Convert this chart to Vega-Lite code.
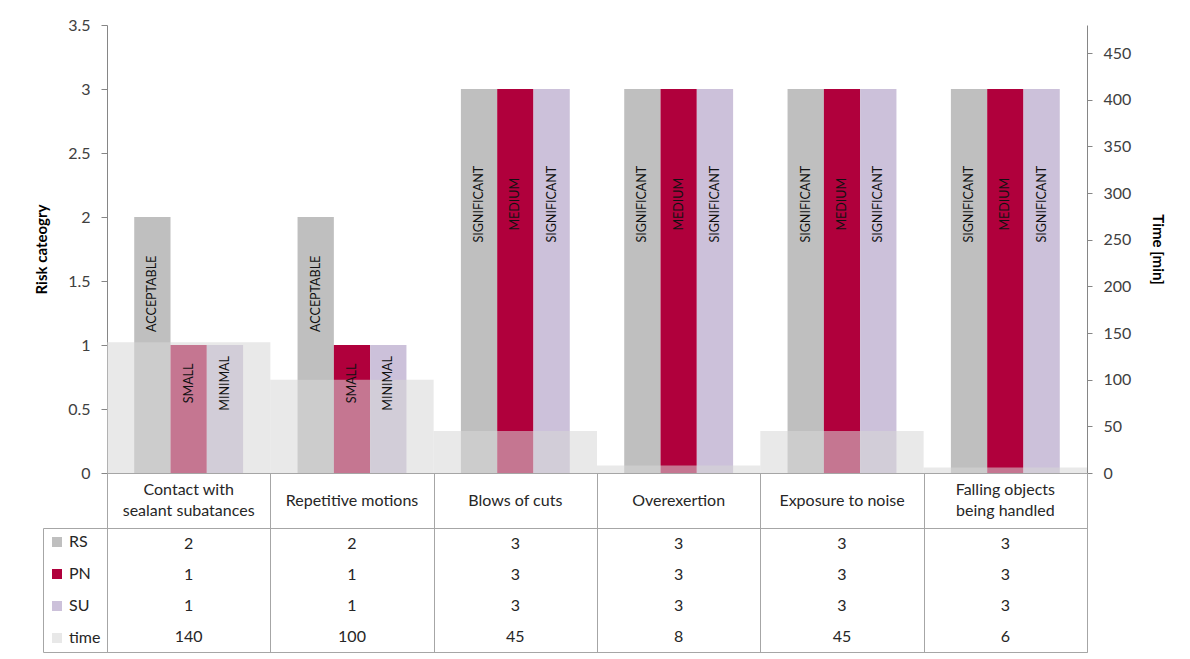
{
  "$schema": "https://vega.github.io/schema/vega-lite/v6.json",
  "padding": {"left": 34, "top": 17, "right": 20, "bottom": 5},
  "background": "white",
  "config": {
    "font": "Lato",
    "view": {"stroke": null},
    "axis": {"labelFont": "Lato", "titleFont": "Lato"},
    "legend": {"labelFont": "Lato"}
  },
  "datasets": {
    "risk": [
      {"cat": "Contact with sealant subatances", "series": "RS", "value": 2, "label": "ACCEPTABLE"},
      {"cat": "Contact with sealant subatances", "series": "PN", "value": 1, "label": "SMALL"},
      {"cat": "Contact with sealant subatances", "series": "SU", "value": 1, "label": "MINIMAL"},
      {"cat": "Repetitive motions", "series": "RS", "value": 2, "label": "ACCEPTABLE"},
      {"cat": "Repetitive motions", "series": "PN", "value": 1, "label": "SMALL"},
      {"cat": "Repetitive motions", "series": "SU", "value": 1, "label": "MINIMAL"},
      {"cat": "Blows of cuts", "series": "RS", "value": 3, "label": "SIGNIFICANT"},
      {"cat": "Blows of cuts", "series": "PN", "value": 3, "label": "MEDIUM"},
      {"cat": "Blows of cuts", "series": "SU", "value": 3, "label": "SIGNIFICANT"},
      {"cat": "Overexertion", "series": "RS", "value": 3, "label": "SIGNIFICANT"},
      {"cat": "Overexertion", "series": "PN", "value": 3, "label": "MEDIUM"},
      {"cat": "Overexertion", "series": "SU", "value": 3, "label": "SIGNIFICANT"},
      {"cat": "Exposure to noise", "series": "RS", "value": 3, "label": "SIGNIFICANT"},
      {"cat": "Exposure to noise", "series": "PN", "value": 3, "label": "MEDIUM"},
      {"cat": "Exposure to noise", "series": "SU", "value": 3, "label": "SIGNIFICANT"},
      {"cat": "Falling objects being handled", "series": "RS", "value": 3, "label": "SIGNIFICANT"},
      {"cat": "Falling objects being handled", "series": "PN", "value": 3, "label": "MEDIUM"},
      {"cat": "Falling objects being handled", "series": "SU", "value": 3, "label": "SIGNIFICANT"}
    ],
    "time": [
      {"cat": "Contact with sealant subatances", "name": "Contact with\nsealant subatances", "time": 140},
      {"cat": "Repetitive motions", "name": "Repetitive motions", "time": 100},
      {"cat": "Blows of cuts", "name": "Blows of cuts", "time": 45},
      {"cat": "Overexertion", "name": "Overexertion", "time": 8},
      {"cat": "Exposure to noise", "name": "Exposure to noise", "time": 45},
      {"cat": "Falling objects being handled", "name": "Falling objects\nbeing handled", "time": 6}
    ]
  },
  "spacing": 0,
  "bounds": "flush",
  "resolve": {"scale": {"color": "independent", "x": "independent"}, "legend": {"color": "independent"}},
  "vconcat": [
    {
      "width": 980,
      "height": 448,
      "layer": [
        {
          "data": {"name": "risk"},
          "mark": {"type": "bar"},
          "encoding": {
            "x": {"field": "cat", "type": "nominal", "sort": null,
              "scale": {"domain": ["Contact with sealant subatances", "Repetitive motions", "Blows of cuts", "Overexertion", "Exposure to noise", "Falling objects being handled"], "paddingInner": 0, "paddingOuter": 0},
              "axis": null},
            "xOffset": {"field": "series", "type": "nominal", "scale": {"domain": ["RS", "PN", "SU"], "paddingInner": 0, "paddingOuter": 0.75}},
            "y": {"field": "value", "type": "quantitative",
              "scale": {"domain": [0, 3.5], "nice": false},
              "axis": {"title": "Risk cateogry", "values": [0, 0.5, 1, 1.5, 2, 2.5, 3, 3.5], "format": "~g", "grid": false,
                "tickSize": 6, "labelPadding": 11, "domainColor": "#868686", "tickColor": "#868686",
                "labelFontSize": 16, "labelColor": "#404040", "titleFontSize": 15, "titleFontWeight": "bold",
                "titleColor": "#000000", "titlePadding": 18}},
            "color": {"field": "series", "type": "nominal",
              "scale": {"domain": ["RS", "PN", "SU"], "range": ["#bfbfbf", "#b0003c", "#ccc1da"]}, "legend": null}
          }
        },
        {
          "data": {"name": "time"},
          "mark": {"type": "bar", "color": "#d7d7d7", "opacity": 0.55},
          "encoding": {
            "x": {"field": "cat", "type": "nominal", "sort": null, "axis": null},
            "y": {"field": "time", "type": "quantitative",
              "scale": {"domain": [0, 480], "nice": false},
              "axis": {"orient": "right", "title": "Time [min]", "values": [0, 50, 100, 150, 200, 250, 300, 350, 400, 450], "grid": false,
                "tickSize": 5, "labelPadding": 11, "domainColor": "#868686", "tickColor": "#868686",
                "labelFontSize": 16, "labelColor": "#404040", "titleFontSize": 15, "titleFontWeight": "bold",
                "titleColor": "#000000", "titlePadding": 19}}
          }
        },
        {
          "data": {"name": "risk"},
          "transform": [{"calculate": "datum.value * 0.7", "as": "labelPos"}],
          "mark": {"type": "text", "angle": 270, "fontSize": 12.5, "color": "#111111", "align": "center", "baseline": "middle"},
          "encoding": {
            "x": {"field": "cat", "type": "nominal", "sort": null, "axis": null},
            "xOffset": {"field": "series", "type": "nominal", "scale": {"domain": ["RS", "PN", "SU"], "paddingInner": 0, "paddingOuter": 0.75}},
            "y": {"field": "labelPos", "type": "quantitative", "scale": {"domain": [0, 3.5], "nice": false}, "axis": null},
            "text": {"field": "label"}
          }
        }
      ],
      "resolve": {"scale": {"y": "independent"}}
    },
    {
      "width": 980,
      "height": 55,
      "view": {"stroke": "#a6a6a6"},
      "data": {"name": "time"},
      "encoding": {
        "x": {"field": "cat", "type": "nominal", "sort": null,
          "scale": {"domain": ["Contact with sealant subatances", "Repetitive motions", "Blows of cuts", "Overexertion", "Exposure to noise", "Falling objects being handled"], "paddingInner": 0, "paddingOuter": 0},
          "axis": {"title": null, "labels": false, "ticks": false, "domain": false, "grid": true, "tickBand": "extent", "gridColor": "#a6a6a6", "gridOpacity": 1}},
        "text": {"field": "name"}
      },
      "layer": [
        {
          "transform": [{"filter": "indexof(datum.name, '\\n') < 0"}],
          "mark": {"type": "text", "fontSize": 16, "color": "#262626", "baseline": "middle"}
        },
        {
          "transform": [{"filter": "indexof(datum.name, '\\n') >= 0"}],
          "mark": {"type": "text", "fontSize": 16, "lineBreak": "\n", "lineHeight": 21, "dy": -10.5, "color": "#262626", "baseline": "middle"}
        }
      ]
    },
    {
      "width": 980,
      "height": 124,
      "view": {"stroke": "#a6a6a6"},
      "layer": [
        {
          "data": {"name": "risk"},
          "mark": {"type": "text", "fontSize": 16, "color": "#262626"},
          "encoding": {
            "x": {"field": "cat", "type": "nominal", "sort": null,
              "scale": {"domain": ["Contact with sealant subatances", "Repetitive motions", "Blows of cuts", "Overexertion", "Exposure to noise", "Falling objects being handled"], "paddingInner": 0, "paddingOuter": 0},
              "axis": {"title": null, "labels": false, "ticks": false, "domain": false, "grid": true, "tickBand": "extent", "gridColor": "#a6a6a6", "gridOpacity": 1}},
            "y": {"field": "series", "type": "nominal", "scale": {"domain": ["RS", "PN", "SU", "time"], "paddingInner": 0, "paddingOuter": 0}, "axis": null},
            "text": {"field": "value"}
          }
        },
        {
          "data": {"name": "time"},
          "mark": {"type": "text", "fontSize": 16, "color": "#262626"},
          "encoding": {
            "x": {"field": "cat", "type": "nominal", "sort": null},
            "y": {"datum": "time", "type": "nominal"},
            "text": {"field": "time"}
          }
        },
        {
          "data": {"name": "risk"},
          "mark": {"type": "square", "opacity": 0},
          "encoding": {
            "color": {"field": "series", "type": "nominal",
              "scale": {"domain": ["RS", "PN", "SU", "time"], "range": ["#bfbfbf", "#b0003c", "#ccc1da", "#e8e8e8"]},
              "legend": {"orient": "left", "title": null, "offset": 0, "padding": 6, "strokeColor": "#a6a6a6",
                "symbolType": "square", "symbolSize": 100, "symbolOpacity": 1, "symbolStrokeWidth": 0,
                "labelFontSize": 16, "labelOffset": 4, "rowPadding": 16, "labelColor": "#262626"}}
          }
        }
      ]
    }
  ]
}
